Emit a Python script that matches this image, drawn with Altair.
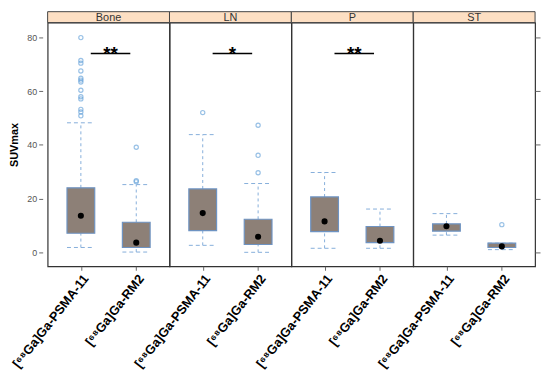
import altair as alt
import pandas as pd

FONT = "Liberation Sans"

panels = ["Bone", "LN", "P", "ST"]
tracers = ["[⁶⁸Ga]Ga-PSMA-11", "[⁶⁸Ga]Ga-RM2"]

# per panel: [PSMA, RM2]
lo  = {"Bone": [1.8, 0.1],  "LN": [2.6, 0.0],  "P": [1.5, 1.5],  "ST": [6.4, 1.0]}
q1  = {"Bone": [7.1, 1.8],  "LN": [8.1, 2.9],  "P": [7.7, 3.6],  "ST": [7.9, 1.8]}
med = {"Bone": [13.6, 3.6], "LN": [14.6, 5.8], "P": [11.5, 4.3], "ST": [9.7, 2.2]}
q3  = {"Bone": [24.0, 11.2], "LN": [23.6, 12.3], "P": [20.6, 9.6], "ST": [10.6, 3.4]}
hi  = {"Bone": [48.2, 25.2], "LN": [43.8, 25.6], "P": [29.7, 16.1], "ST": [14.4, 3.4]}

outliers = {
    "Bone": [[79.9, 71.4, 70.4, 67.5, 64.8, 64.1, 63.4, 60.3, 57.9, 57.1, 53.2, 52.2, 50.8],
             [39.1, 26.7, 26.3]],
    "LN": [[52.0], [47.3, 36.1, 29.6]],
    "P": [[], []],
    "ST": [[], [10.3]],
}

sig_label = {"Bone": "**", "LN": "*", "P": "**"}
sig_y = 74.0

W, H = 123, 246
YDOM = [-5.2, 85.5]
yticks = [0, 20, 40, 60, 80]

BOX_FILL = "#8D8077"
BOX_STROKE = "#6E93C2"
WHISK = "#86AEDB"
OUT = "#6FA8DC"
STRIP = "#FDDFC3"


def make_panel(p, idx):
    stats = pd.DataFrame({
        "tracer": tracers,
        "lo": lo[p], "q1": q1[p], "med": med[p], "q3": q3[p], "hi": hi[p],
    })
    out_rows = [{"tracer": tracers[i], "v": v} for i in range(2) for v in outliers[p][i]]
    outdf = pd.DataFrame(out_rows if out_rows else [{"tracer": tracers[0], "v": None}])

    if idx == 0:
        yaxis = alt.Axis(values=yticks, title="SUVmax", titleFontWeight="bold", titleFontSize=11,
                         titleColor="black", labelColor="#555", labelFontSize=9, tickColor="#666",
                         domain=False, offset=5, tickSize=4, grid=False, labelPadding=2,
                         titlePadding=7, titleFont=FONT, labelFont=FONT)
    elif idx == 3:
        yaxis = alt.Axis(values=yticks, orient="right", labels=False, title=None, domain=False,
                         tickSize=5, tickColor="#666", grid=False)
    else:
        yaxis = None

    xenc = alt.X("tracer:N", sort=tracers,
                 scale=alt.Scale(type="point", padding=0.6, domain=tracers),
                 axis=alt.Axis(labelAngle=-52, labelFontWeight="bold", labelFontSize=13,
                               labelColor="black", domain=False, tickSize=4, tickColor="#666",
                               title=None, labelPadding=2, grid=False, labelFont=FONT,
                               labelAlign="right", labelBaseline="top"))
    ysc = alt.Scale(domain=YDOM, nice=False, zero=False)

    base = alt.Chart(stats)
    whisk_lo = base.mark_rule(color=WHISK, strokeDash=[3, 3], strokeWidth=1).encode(
        x=xenc, y=alt.Y("lo:Q", scale=ysc, axis=yaxis), y2="q1:Q")
    whisk_hi = base.mark_rule(color=WHISK, strokeDash=[3, 3], strokeWidth=1).encode(
        x=xenc, y=alt.Y("q3:Q", scale=ysc), y2="hi:Q")
    cap_lo = base.mark_rule(color=WHISK, strokeDash=[4, 3], strokeWidth=1, xOffset=-14, x2Offset=14).encode(
        x=xenc, x2="tracer:N", y=alt.Y("lo:Q", scale=ysc))
    cap_hi = base.mark_rule(color=WHISK, strokeDash=[4, 3], strokeWidth=1, xOffset=-14, x2Offset=14).encode(
        x=xenc, x2="tracer:N", y=alt.Y("hi:Q", scale=ysc))
    box = base.mark_bar(size=28, fill=BOX_FILL, stroke=BOX_STROKE, strokeWidth=1.2).encode(
        x=xenc, y=alt.Y("q1:Q", scale=ysc), y2="q3:Q")
    mdot = base.mark_circle(size=38, color="black", opacity=1).encode(
        x=xenc, y=alt.Y("med:Q", scale=ysc))
    outs = alt.Chart(outdf).mark_point(shape="circle", size=18, filled=False, color=OUT,
                                       strokeWidth=1.2).encode(
        x=xenc, y=alt.Y("v:Q", scale=ysc))

    strip_df = pd.DataFrame({"panel": [p]})
    strip = alt.Chart(strip_df).mark_rect(fill=STRIP, stroke="#444", strokeWidth=1).encode(
        x=alt.value(0), x2=alt.value(W), y=alt.value(-11), y2=alt.value(0))
    strip_txt = alt.Chart(strip_df).mark_text(fontSize=11, color="#333", font=FONT, baseline="middle").encode(
        x=alt.value(W / 2), y=alt.value(-5), text="panel:N")

    layers = [strip, strip_txt, whisk_lo, whisk_hi, cap_lo, cap_hi, box, mdot, outs]

    if p in sig_label:
        sdf = pd.DataFrame({"x1": [tracers[0]], "x2": [tracers[1]], "y": [sig_y], "s": [sig_label[p]]})
        srule = alt.Chart(sdf).mark_rule(color="black", strokeWidth=1.6, xOffset=10, x2Offset=-6).encode(
            x=alt.X("x1:N", scale=alt.Scale(type="point", padding=0.6, domain=tracers)),
            x2="x2:N", y=alt.Y("y:Q", scale=ysc))
        stxt = alt.Chart(sdf).mark_text(fontSize=19, fontWeight="bold", color="black", font=FONT,
                                        baseline="alphabetic", dy=7, xOffset=30).encode(
            x=alt.X("x1:N", scale=alt.Scale(type="point", padding=0.6, domain=tracers)),
            y=alt.Y("y:Q", scale=ysc), text="s:N")
        layers += [srule, stxt]

    return alt.layer(*layers).properties(width=W, height=H)


chart = alt.hconcat(*[make_panel(p, i) for i, p in enumerate(panels)], spacing=0,
                    bounds="flush", padding=0).configure(
    font=FONT
).configure_view(
    stroke="#333", strokeWidth=1.2
)

chart.save("out.html", embed_options={"renderer": "svg", "actions": False})
